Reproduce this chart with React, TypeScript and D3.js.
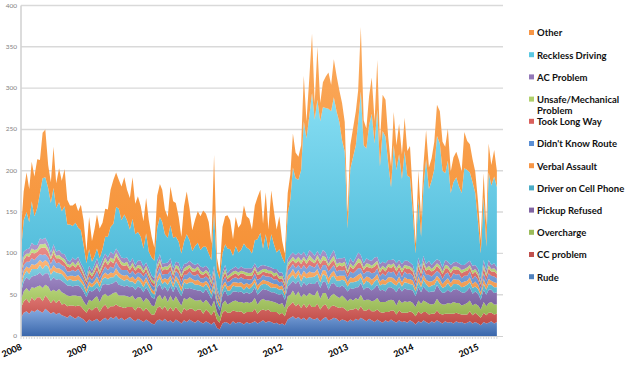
import React from "react";
import * as d3 from "d3";

// Semi-monthly categories: Jan 2008 .. Apr 2015 (176 points)
const N = 176;
const categories: Date[] = Array.from({ length: N }, (_, i) => new Date(2008, Math.floor(i / 2), i % 2 ? 16 : 1));

const yearLabels = ["2008", "2009", "2010", "2011", "2012", "2013", "2014", "2015"];
const yTicks = [0, 50, 100, 150, 200, 250, 300, 350, 400];

const rude = [
  22,28,30,27,31,29,32,30,28,33,30,27,29,26,28,25,24,22,25,23,21,24,22,20,
  16,20,18,19,21,17,20,22,19,23,21,24,20,22,19,21,23,20,18,21,19,17,20,18,
  15,14,19,20,18,21,17,19,16,20,18,15,19,17,20,18,16,19,17,15,18,16,14,17,
  10,8,15,17,16,14,18,15,17,16,14,17,15,16,18,15,17,19,16,18,17,15,16,14,
  15,13,20,22,24,21,23,20,22,19,23,21,20,22,18,21,23,19,20,22,21,18,20,19,
  17,20,18,21,19,22,20,18,21,19,17,20,18,16,19,17,20,18,16,19,17,18,16,19,
  17,14,18,16,19,17,15,18,16,19,17,15,18,16,17,15,18,16,17,15,16,18,15,17,
  15,13,17,15,16,18,15,17,
];
const ccProblem = [
  12,14,15,13,16,14,15,17,14,16,15,13,15,14,16,13,15,14,12,14,15,13,14,12,
  12,14,13,15,14,12,15,16,14,13,15,14,16,13,15,14,12,15,13,14,15,13,14,12,
  11,12,15,16,14,15,13,16,14,15,13,12,15,14,13,15,14,13,15,12,14,13,11,14,
  10,8,13,14,12,14,13,15,12,14,13,12,14,13,15,12,14,13,15,14,12,14,13,12,
  13,11,15,16,17,15,16,14,17,15,16,14,15,17,14,16,15,13,16,15,14,16,15,14,
  13,12,14,13,12,14,11,13,12,11,13,12,11,12,10,12,11,13,10,12,11,10,12,11,
  11,10,12,11,10,12,11,9,11,12,10,11,9,11,10,12,10,11,9,11,10,12,10,11,
  10,9,11,10,12,10,11,10,
];
const overcharge = [
  10,12,13,14,12,15,13,14,16,13,15,14,12,14,13,15,12,13,11,12,13,11,12,10,
  9,10,11,12,13,12,14,13,15,14,16,15,13,14,15,13,12,14,13,12,13,11,12,13,
  11,10,13,14,12,13,11,14,12,13,11,10,12,13,14,12,13,11,12,13,12,11,10,12,
  9,7,11,12,10,12,11,13,12,11,13,12,11,12,13,11,12,13,12,11,13,12,11,12,
  12,10,13,12,14,13,15,13,12,14,13,15,14,16,13,15,14,12,13,14,13,12,14,13,
  12,13,11,12,13,14,12,13,11,12,13,14,12,13,12,14,13,12,11,13,12,14,13,12,
  12,11,13,12,14,12,13,11,12,14,13,12,11,13,12,14,12,13,11,12,14,13,12,11,
  12,10,13,11,12,13,12,11,
];
const pickupRefused = [
  9,12,13,14,13,15,14,16,15,14,16,13,15,14,12,14,13,12,13,11,12,13,11,12,
  10,11,12,10,11,12,13,12,14,13,12,14,13,12,11,13,12,11,12,13,11,12,13,11,
  10,9,12,13,12,11,13,12,11,13,12,11,12,13,11,12,13,12,11,12,13,11,10,12,
  9,8,11,12,11,10,12,11,12,13,11,12,11,12,13,12,11,12,13,12,11,12,11,12,
  11,10,12,13,12,14,13,12,14,13,12,13,14,12,13,14,13,12,14,13,12,13,12,13,
  12,13,14,13,15,14,13,15,14,13,15,16,14,15,13,16,15,14,16,15,14,16,15,14,
  15,13,16,14,17,15,14,16,15,17,16,14,15,16,14,15,17,15,16,14,15,16,14,15,
  14,12,15,14,16,15,14,15,
];
const driverOnCellPhone = [
  6,7,8,7,9,8,7,9,8,10,8,7,8,9,7,8,7,6,8,7,6,7,6,7,
  5,6,5,6,7,6,7,8,7,8,7,8,9,8,7,8,7,6,7,8,7,6,7,6,
  6,5,7,8,7,6,8,7,6,7,8,6,7,6,7,8,6,7,6,7,6,7,5,6,
  5,4,6,7,6,5,7,6,7,6,5,7,6,7,6,5,7,6,7,6,5,6,7,6,
  6,5,7,8,7,6,8,7,8,9,7,8,9,8,7,9,8,7,8,9,7,8,7,8,
  6,7,8,7,8,7,6,8,7,6,8,7,6,7,8,6,7,6,8,7,6,7,8,7,
  7,6,7,6,8,7,6,7,8,6,7,6,7,8,6,7,6,7,6,8,7,6,7,6,
  6,5,7,6,7,6,7,6,
];
const verbalAssault = [
  5,6,5,7,6,5,7,6,8,6,5,6,7,5,6,5,6,5,4,6,5,6,5,4,
  4,5,4,5,6,5,4,6,5,6,5,7,6,5,6,5,4,6,5,4,5,6,5,4,
  4,4,5,6,5,4,6,5,4,5,6,5,4,5,6,4,5,6,4,5,4,5,4,5,
  4,3,5,4,5,6,4,5,4,5,6,4,5,4,5,6,4,5,4,5,6,4,5,4,
  4,4,6,5,7,6,5,7,6,5,7,6,5,6,7,5,6,7,5,6,5,6,5,6,
  5,6,5,6,7,5,6,5,6,7,5,6,5,6,5,6,5,7,5,6,5,6,5,6,
  5,4,6,5,6,5,7,5,6,5,6,5,7,6,5,6,5,6,5,6,5,6,5,6,
  5,4,6,5,6,5,6,5,
];
const didntKnowRoute = [
  6,7,6,8,7,6,8,7,9,7,6,7,8,6,7,6,7,6,5,7,6,7,6,5,
  5,6,5,6,7,6,5,7,6,7,6,8,7,6,7,6,5,7,6,5,6,7,6,5,
  5,5,6,7,6,5,7,6,5,6,7,6,5,6,7,5,6,7,5,6,5,6,5,6,
  4,3,5,6,5,6,5,6,5,6,7,5,6,5,6,7,5,6,5,6,7,5,6,5,
  5,4,6,7,6,7,6,8,7,6,8,7,6,7,8,6,7,8,6,7,6,7,6,7,
  6,7,6,7,8,6,7,6,7,8,6,7,6,7,6,7,6,8,6,7,6,7,6,7,
  6,5,7,6,7,6,8,6,7,6,7,6,8,7,6,7,6,7,6,7,6,7,6,7,
  6,5,7,6,7,6,7,6,
];
const tookLongWay = [
  5,6,7,6,7,8,6,7,9,8,7,6,7,6,5,6,5,6,5,6,5,6,5,4,
  4,5,4,5,6,5,6,7,6,7,6,7,8,6,5,6,5,6,5,6,5,4,5,4,
  4,4,5,6,5,6,5,6,5,4,5,6,5,6,5,4,5,6,5,4,5,4,4,5,
  3,3,4,5,4,5,4,5,4,5,6,4,5,4,5,6,5,4,5,4,5,4,5,4,
  4,4,5,6,5,6,5,6,7,6,7,6,5,6,7,6,5,6,7,6,5,6,5,6,
  5,6,5,6,7,6,5,6,5,6,7,6,5,6,5,6,5,7,6,5,6,5,6,5,
  5,4,6,5,6,5,7,6,5,6,5,6,7,5,6,5,6,5,6,5,6,5,6,5,
  5,4,6,5,6,5,6,5,
];
const unsafeMechanical = [
  3,4,3,4,5,4,3,5,4,5,4,3,4,3,4,3,4,3,3,4,3,4,3,3,
  3,3,3,4,3,4,3,4,3,4,5,4,3,4,3,4,3,4,3,3,4,3,3,4,
  3,3,4,3,4,3,4,3,4,3,4,3,3,4,3,4,3,3,4,3,3,4,3,3,
  2,2,3,4,3,3,4,3,4,3,3,4,3,4,3,3,4,3,4,3,3,4,3,3,
  3,3,4,3,4,4,5,4,3,4,5,4,3,4,4,5,4,3,4,5,4,3,4,4,
  3,4,3,4,5,4,3,4,4,3,4,3,4,3,4,3,4,3,4,3,4,3,4,3,
  3,3,4,3,4,3,4,3,4,3,4,3,4,3,4,3,4,3,4,3,4,3,4,3,
  3,3,4,3,4,3,4,3,
];
const acProblem = [
  5,6,5,6,7,6,5,7,6,7,6,5,6,5,6,5,6,5,4,5,6,5,4,5,
  4,5,4,5,6,5,6,5,6,7,6,5,6,5,6,5,6,5,4,5,6,5,4,5,
  4,4,5,6,5,4,5,6,5,4,5,6,5,4,5,6,5,4,5,6,5,4,4,5,
  3,3,4,5,4,5,4,5,4,5,4,5,6,5,4,5,6,5,4,5,4,5,4,5,
  4,4,5,6,5,6,5,7,6,5,6,7,6,5,6,7,6,5,6,7,6,5,6,5,
  5,6,5,6,7,6,5,6,5,6,7,5,6,5,6,5,6,5,6,5,6,5,6,5,
  5,4,6,5,6,5,6,5,6,5,6,5,6,5,6,5,6,5,6,5,6,5,6,5,
  5,4,6,5,6,5,6,5,
];
const recklessDriving = [
  20,38,45,32,50,35,45,55,74,73,67,60,68,53,58,51,58,43,45,38,45,35,40,28,
  16,20,11,10,12,10,12,20,25,30,37,50,53,45,53,45,40,48,37,35,29,22,35,20,
  22,21,40,45,50,35,30,40,37,30,25,20,27,35,25,15,23,25,20,25,23,19,22,65,
  21,20,23,25,30,25,15,25,20,20,30,25,23,18,28,35,40,20,38,20,40,30,20,28,
  18,20,55,68,103,93,88,103,158,143,163,193,165,183,163,173,175,183,173,185,178,165,143,128,
  46,108,128,136,158,198,143,133,163,178,138,178,118,158,153,118,88,138,113,128,103,133,103,103,
  62,26,72,37,82,127,87,102,112,149,142,117,105,122,87,97,102,93,87,117,112,107,101,87,
  56,31,76,28,106,96,105,97,
];
const other = [
  25,35,48,40,48,48,59,40,55,58,28,25,50,30,41,37,45,30,23,25,24,20,31,30,
  15,39,25,33,41,36,32,34,33,45,53,42,35,41,45,37,38,50,37,43,37,33,43,38,
  25,16,39,40,39,30,25,47,44,41,30,20,43,52,38,25,32,38,41,44,40,38,20,69,
  15,8,32,34,40,35,20,35,30,32,46,38,37,29,42,51,52,30,51,25,53,40,28,40,
  20,12,25,30,41,31,28,30,55,21,46,72,20,64,22,30,38,44,32,46,43,38,45,36,
  18,29,35,41,38,78,30,24,35,44,27,60,30,44,45,31,25,40,30,37,30,40,30,38,
  23,12,33,23,27,35,26,27,33,38,39,35,32,39,26,30,31,32,26,44,35,34,28,26,
  25,16,29,24,35,25,32,20,
];

const seriesNames = [
  "Rude", "CC problem", "Overcharge", "Pickup Refused", "Driver on Cell Phone", "Verbal Assault",
  "Didn't Know Route", "Took Long Way", "Unsafe/Mechanical Problem", "AC Problem", "Reckless Driving", "Other",
];
const seriesValues = [
  rude, ccProblem, overcharge, pickupRefused, driverOnCellPhone, verbalAssault,
  didntKnowRoute, tookLongWay, unsafeMechanical, acProblem, recklessDriving, other,
];
// [light (top), dark (bottom), legend swatch]
const seriesColors: [string, string, string][] = [
  ["#86abe0", "#3a67ab", "#4f81bd"],
  ["#de7672", "#b9433f", "#c0504d"],
  ["#b8d67a", "#8cad4a", "#9bbb59"],
  ["#a18bc7", "#6d5393", "#8064a2"],
  ["#86d1e4", "#3c9fba", "#4bacc6"],
  ["#fbb77a", "#ea8633", "#f79646"],
  ["#93b5e6", "#4c7ec2", "#5b8fd4"],
  ["#ea8c88", "#c9504c", "#d9605c"],
  ["#c8e28e", "#9cc15a", "#b0d06c"],
  ["#b19dd1", "#7f67a7", "#9278b8"],
  ["#88dff4", "#47b5d5", "#5ac8e2"],
  ["#fbab5e", "#f58f33", "#f79646"],
];

const legendOrder = [11, 10, 9, 8, 7, 6, 5, 4, 3, 2, 1, 0];

const W = 630;
const H = 365;
const left = 21;
const right = 503;
const top = 5.5;
const bottom = 336;

export default function App() {
  const rows = categories.map((d, i) => {
    const r: any = { date: d };
    seriesNames.forEach((k, s) => (r[k] = seriesValues[s][i]));
    return r;
  });
  const stacked = d3.stack().keys(seriesNames)(rows);

  const x = d3.scaleTime().domain([new Date(2008, 0, 1), new Date(2015, 0, 1)]).range([left, 478.1]);
  const y = d3.scaleLinear().domain([0, 400]).range([bottom, top]);

  const area = d3
    .area<any>()
    .x((d) => x(d.data.date))
    .y0((d) => y(d[0]))
    .y1((d) => y(d[1]));

  const years = yearLabels.map((l) => ({ label: l, x: x(new Date(+l, 0, 1)) + 1.5 }));
  const font = "Lato, 'Liberation Sans', sans-serif";

  return (
    <svg width={W} height={H} style={{ position: "absolute", left: 0, top: 0, background: "#fff" }}>
      <defs>
        {seriesColors.map((c, i) => (
          <linearGradient key={i} id={`g${i}`} x1="0" y1="0" x2="0" y2="1">
            <stop offset="0" stopColor={c[0]} />
            <stop offset="1" stopColor={c[1]} />
          </linearGradient>
        ))}
      </defs>
      {yTicks.slice(1).map((t) => (
        <line key={t} x1={left} x2={right} y1={y(t)} y2={y(t)} stroke="#d9d9d9" strokeWidth={1.4} />
      ))}
      {stacked.map((s, i) => (
        <path key={s.key} d={area(s as any) || ""} fill={`url(#g${i})`} />
      ))}
      <line x1={left} x2={left} y1={top} y2={bottom} stroke="#d4d4d4" strokeWidth={1.6} />
      <line x1={left} x2={right} y1={bottom + 0.5} y2={bottom + 0.5} stroke="#d0d0d0" strokeWidth={1} />
      {categories.map((d, i) => (
        <line key={i} x1={x(d)} x2={x(d)} y1={bottom} y2={bottom + 3} stroke="#cfcfcf" strokeWidth={0.8} />
      ))}
      {yTicks.map((t) => (
        <text key={t} x={17} y={y(t) + 2} fontSize={6.5} fill="#7f7f7f" textAnchor="end" fontFamily={font}>
          {t}
        </text>
      ))}
      {years.map((yr) => (
        <text
          key={yr.label}
          x={yr.x}
          y={349}
          fontSize={9}
          fontWeight="bold"
          fill="#000"
          textAnchor="end"
          fontFamily={font}
          transform={`rotate(-24 ${yr.x} 349)`}
        >
          {yr.label}
        </text>
      ))}
      {legendOrder.map((si, k) => {
        const cy = 33 + 22.2 * k;
        const name = seriesNames[si];
        const lines = name === "Unsafe/Mechanical Problem" ? ["Unsafe/Mechanical", "Problem"] : [name];
        return (
          <g key={name}>
            <rect x={529} y={cy - 3} width={5} height={5} fill={seriesColors[si][2]} />
            {lines.map((ln, j) => (
              <text key={j} x={537} y={cy + 3.3 + j * 11.5} fontSize={9.5} fontWeight="bold" fill="#111" fontFamily={font}>
                {ln}
              </text>
            ))}
          </g>
        );
      })}
    </svg>
  );
}
